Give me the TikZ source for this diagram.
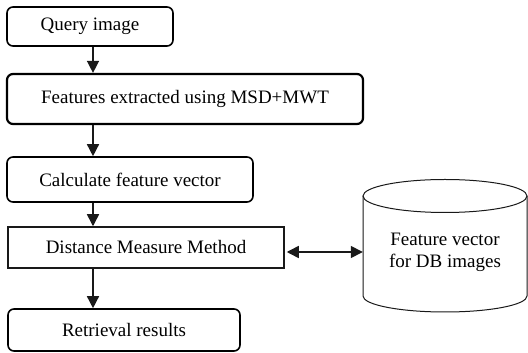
\documentclass[tikz,border=0pt]{standalone}
\usepackage{fontspec}
\setmainfont{Liberation Serif}
\usetikzlibrary{arrows.meta}
\begin{document}
\begin{tikzpicture}[x=1pt,y=1pt,
  every node/.style={font=\fontsize{19}{22}\selectfont, inner sep=0pt},
  rbox/.style={draw=black, line width=1.6pt, rounded corners=6pt},
  sbox/.style={draw=black!90, line width=1.5pt},
  arr/.style={draw=black!90, line width=1.5pt, -{Triangle[length=12pt,width=12pt]}},
  darr/.style={draw=black!90, line width=1.5pt, {Triangle[length=12pt,width=12pt]}-{Triangle[length=12pt,width=12pt]}},
  cyl/.style={draw=black!90, line width=1pt}]
\useasboundingbox (0,0) rectangle (528,353);
\node[rbox, minimum width=166pt, minimum height=39pt] (q) at (90,326.5) {Query image};
\node[rbox, line width=2.2pt, minimum width=356pt, minimum height=50pt] (f) at (185,254) {Features extracted using MSD+MWT};
\node[rbox, minimum width=246pt, minimum height=45pt] (c) at (130,173.5) {Calculate feature vector};
\node[sbox, minimum width=276pt, minimum height=41pt] (d) at (146,105.5) {Distance Measure Method};
\node[rbox, minimum width=232pt, minimum height=42pt] (r) at (124,23) {Retrieval results};
\node[minimum width=164pt, align=center] (db) at (445,101) {Feature vector\\for DB images};
\coordinate (ax) at (93,0);
\draw[cyl] (363,157) -- (363,57) arc[start angle=180, end angle=360, x radius=82pt, y radius=16pt] -- (527,157);
\draw[cyl] (445,157) ellipse[x radius=82pt, y radius=16.5pt];
\draw[arr] (q.south -| ax) -- (f.north -| ax);
\draw[arr] (f.south -| ax) -- (c.north -| ax);
\draw[arr] (c.south -| ax) -- (d.north -| ax);
\draw[arr] (d.south -| ax) -- (r.north -| ax);
\draw[darr] ([xshift=2pt]d.east |- db) -- (db.west);
\end{tikzpicture}
\end{document}
